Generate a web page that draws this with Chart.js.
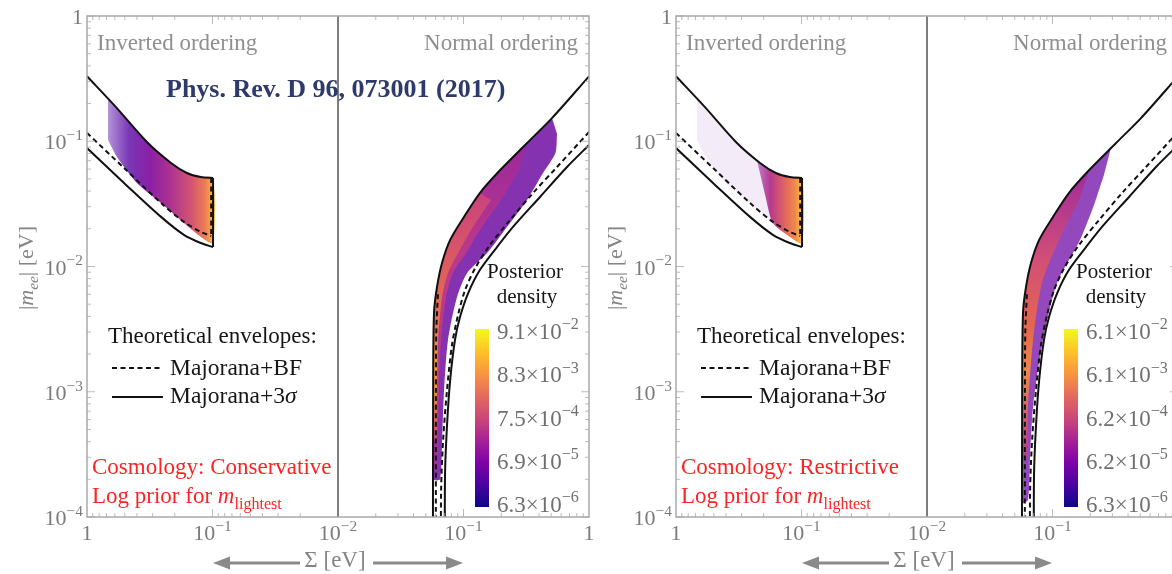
<!DOCTYPE html>
<html lang="en">
<head>
<meta charset="UTF-8">
<title>|m_ee| versus Σ</title>
<script src="https://cdn.jsdelivr.net/npm/chart.js@4.4.1/dist/chart.umd.min.js"></script>
<style>
  html, body { margin: 0; padding: 0; background: #fff; overflow: hidden; }
  .wrap { position: relative; width: 1172px; height: 574px; overflow: hidden; }
  .panel { position: absolute; top: 0; width: 600px; height: 574px; }
  #left { left: 0; }
  #right { left: 589px; }
</style>
</head>
<body>
<div class="wrap">
  <div class="panel" id="left"><canvas id="leftChart"></canvas></div>
  <div class="panel" id="right"><canvas id="rightChart"></canvas></div>
</div>
<script>
// all points are [Σ (eV), |m_ee| (eV)]
// theoretical envelopes, inverted ordering
const ioUpper3s = [[1.0, 0.33], [0.59, 0.188], [0.333, 0.0986], [0.214, 0.0671], [0.16, 0.0558], [0.124, 0.0518], [0.099, 0.0509]];
const ioLower3s = [[1.0, 0.0883], [0.507, 0.0465], [0.257, 0.0249], [0.169, 0.0179], [0.124, 0.0154], [0.099, 0.0143]];
const ioLowerBF = [[1.0, 0.1164], [0.507, 0.0612], [0.257, 0.0321], [0.169, 0.0227], [0.124, 0.0189], [0.1025, 0.0175]];

// theoretical envelopes, normal ordering
const noUpper3s = [[1.0, 0.33], [0.507, 0.153], [0.321, 0.0968], [0.196, 0.0589], [0.135, 0.0386], [0.101, 0.0249], [0.0783, 0.0163], [0.0675, 0.0107], [0.0615, 0.00686], [0.0582, 0.00425], [0.0573, 0.001], [0.0571, 0.00005]];
const noLower3s = [[1.0, 0.0933], [0.668, 0.0623], [0.407, 0.0359], [0.248, 0.0207], [0.185, 0.0143], [0.135, 0.00937], [0.109, 0.00614], [0.0938, 0.00395], [0.0855, 0.00259], [0.0783, 0.00124], [0.0741, 0.000563], [0.0713, 0.000225], [0.071, 0.00005]];
const noUpperBF = [[0.0625, 0.006], [0.0607, 0.003], [0.0603, 0.001], [0.0602, 0.00005]];
const noLowerBF = [[1.0, 0.1185], [0.556, 0.0623], [0.358, 0.0386], [0.235, 0.0235], [0.163, 0.0149], [0.124, 0.00973], [0.103, 0.00649], [0.0905, 0.0041], [0.0809, 0.00236], [0.0739, 0.00103], [0.0688, 0.000412], [0.0663, 0.000164], [0.0662, 0.00005]];

// posterior regions, conservative cosmology
const ioCloud = [[0.68, 0.2175], [0.59, 0.188], [0.333, 0.0986], [0.214, 0.0671], [0.16, 0.0558], [0.124, 0.0518], [0.099, 0.0509], [0.099, 0.0154], [0.1235, 0.0172], [0.169, 0.0222], [0.257, 0.0321], [0.4, 0.0465], [0.577, 0.0749], [0.68, 0.1023]];
const consNO = [[0.507, 0.153], [0.321, 0.0968], [0.196, 0.0589], [0.135, 0.0386], [0.101, 0.0249], [0.0783, 0.0163], [0.0675, 0.0107], [0.0615, 0.00686], [0.0585, 0.00425], [0.0577, 0.0008], [0.0575, 0.0002], [0.065, 0.0002], [0.0675, 0.000412], [0.07, 0.00103], [0.0752, 0.00259], [0.0888, 0.00571], [0.107, 0.00888], [0.154, 0.0128], [0.222, 0.0207], [0.321, 0.034], [0.43, 0.0558], [0.54, 0.0806], [0.556, 0.115]];
const consNOcore = [[0.321, 0.0968], [0.196, 0.0589], [0.135, 0.0386], [0.101, 0.0249], [0.0783, 0.0163], [0.0675, 0.0107], [0.0615, 0.00686], [0.0585, 0.00425], [0.0577, 0.000237], [0.0615, 0.000237], [0.0627, 0.000412], [0.0638, 0.00103], [0.0662, 0.00259], [0.0726, 0.00571], [0.0824, 0.00888], [0.1047, 0.0128], [0.14, 0.0207], [0.199, 0.034], [0.277, 0.0589]];
const consNOedge = [[0.135, 0.0386], [0.101, 0.0249], [0.0783, 0.0163], [0.0675, 0.0107], [0.0615, 0.00686], [0.0585, 0.00425], [0.0578, 0.000412], [0.061, 0.000412], [0.0615, 0.00103], [0.0627, 0.00259], [0.0675, 0.00571], [0.0752, 0.00888], [0.0904, 0.0128], [0.119, 0.0207], [0.166, 0.034]];

// posterior regions, restrictive cosmology
const restIOdense = [[0.226, 0.07], [0.16, 0.0558], [0.124, 0.0518], [0.099, 0.0509], [0.099, 0.0154], [0.1235, 0.0172], [0.169, 0.0222], [0.195, 0.0372]];
const restNO = [[0.292, 0.0883], [0.196, 0.0589], [0.135, 0.0386], [0.101, 0.0249], [0.0783, 0.0163], [0.0675, 0.0107], [0.0615, 0.00686], [0.0585, 0.00425], [0.0577, 0.0008], [0.0575, 0.00013], [0.0638, 0.000137], [0.0662, 0.000301], [0.07, 0.000756], [0.0839, 0.00259], [0.1087, 0.00738], [0.1656, 0.0163], [0.214, 0.031], [0.257, 0.0538]];
const restNOcore = [[0.196, 0.0589], [0.135, 0.0386], [0.101, 0.0249], [0.0783, 0.0163], [0.0675, 0.0107], [0.0615, 0.00686], [0.0585, 0.00425], [0.0577, 0.0003], [0.0621, 0.000301], [0.0638, 0.000756], [0.07, 0.00259], [0.0824, 0.00738], [0.1127, 0.0163], [0.1627, 0.034]];

// colour bar labels [mantissa, exponent], top to bottom
const consBar = [[9.1, -2], [8.3, -3], [7.5, -4], [6.9, -5], [6.3, -6]];
const restBar = [[6.1, -2], [6.1, -3], [6.2, -4], [6.2, -5], [6.3, -6]];

// axis tick labels
const xTickLabels = ['1', '10^-1', '10^-2', '10^-1', '1'];
const yTickLabels = ['1', '10^-1', '10^-2', '10^-3', '10^-4'];

const FONT = '"Liberation Serif", "Times New Roman", serif';
const plasma = [[0, '#0d0887'], [0.13, '#4c02a1'], [0.25, '#7e03a8'], [0.38, '#a92395'], [0.5, '#cc4778'], [0.63, '#e66c5c'], [0.75, '#f89540'], [0.88, '#fdc527'], [1, '#f0f921']];

// x runs 0..4: left half is Σ decreasing (inverted), right half Σ increasing (normal)
const toIO = ([s, m]) => ({ x: -Math.log10(s), y: m });
const toNO = ([s, m]) => ({ x: 4 + Math.log10(s), y: m });

function envelope(pts, conv, dash) {
  return { data: pts.map(conv), borderColor: '#111', borderWidth: 2, borderDash: dash ? [5, 3.5] : [],
    tension: 0.3, fill: false, pointRadius: 0, order: 0 };
}
function vertical(s, m0, m1, conv, dash) {
  const d = envelope([[s, m0], [s, m1]], conv, dash);
  d.tension = 0;
  return d;
}
function cloud(pts, conv, color, order) {
  return { data: pts.map(conv), borderWidth: 0, borderColor: 'rgba(0,0,0,0)', backgroundColor: color,
    fill: 'shape', tension: 0.25, pointRadius: 0, order };
}
function envelopeSets() {
  const top = ioUpper3s[ioUpper3s.length - 1];
  const bot = ioLower3s[ioLower3s.length - 1];
  const bf = ioLowerBF[ioLowerBF.length - 1];
  return [
    envelope(ioUpper3s, toIO), envelope(ioLower3s, toIO), vertical(top[0], top[1], bot[1], toIO),
    envelope(ioLowerBF, toIO, true), vertical(bf[0], top[1], bf[1], toIO, true),
    envelope(noUpper3s, toNO), envelope(noLower3s, toNO),
    envelope(noUpperBF, toNO, true), envelope(noLowerBF, toNO, true)
  ];
}

// gradients placed through the scales
function addStops(g, stops) { stops.forEach(([o, c]) => g.addColorStop(o, c)); return g; }
function hGradIO(s0, s1, stops) {
  return c => {
    const ch = c.chart;
    if (!ch.chartArea) return 'rgba(0,0,0,0)';
    const x0 = ch.scales.x.getPixelForValue(-Math.log10(s0));
    const x1 = ch.scales.x.getPixelForValue(-Math.log10(s1));
    return addStops(ch.ctx.createLinearGradient(x0, 0, x1, 0), stops);
  };
}
function vGrad(m0, m1, stops) {
  return c => {
    const ch = c.chart;
    if (!ch.chartArea) return 'rgba(0,0,0,0)';
    const y0 = ch.scales.y.getPixelForValue(m0);
    const y1 = ch.scales.y.getPixelForValue(m1);
    return addStops(ch.ctx.createLinearGradient(0, y0, 0, y1), stops);
  };
}

// rich text: parts = [{t, i, b, sup, sub}]
function drawRich(ctx, parts, x, y, size, color, align) {
  let w = 0;
  const items = parts.map(p => {
    const s = (p.sup || p.sub) ? size * 0.7 : size;
    const f = (p.i ? 'italic ' : '') + (p.b ? 'bold ' : '') + s + 'px ' + FONT;
    ctx.font = f;
    const width = ctx.measureText(p.t).width;
    const it = { t: p.t, f, x: w, dy: p.sup ? -size * 0.42 : p.sub ? size * 0.24 : 0 };
    w += width;
    return it;
  });
  const x0 = align === 'right' ? x - w : align === 'center' ? x - w / 2 : x;
  ctx.fillStyle = color;
  ctx.textAlign = 'left';
  ctx.textBaseline = 'alphabetic';
  items.forEach(it => { ctx.font = it.f; ctx.fillText(it.t, x0 + it.x, y + it.dy); });
}
function powParts(label) {
  const [b, e] = label.split('^');
  return e ? [{ t: b }, { t: e.replace('-', '\u2212'), sup: true }] : [{ t: b }];
}
function arrow(ctx, from, to, y) {
  const dir = Math.sign(to - from);
  ctx.beginPath(); ctx.moveTo(from, y); ctx.lineTo(to - dir * 12, y); ctx.stroke();
  ctx.beginPath(); ctx.moveTo(to, y); ctx.lineTo(to - dir * 17, y - 6.5); ctx.lineTo(to - dir * 17, y + 6.5);
  ctx.closePath(); ctx.fill();
}

function decor(cfg) {
  return {
    id: 'decor',
    afterDraw(chart) {
      const { ctx, chartArea: a, scales: { x, y } } = chart;
      const L = a.left, T = a.top;
      ctx.save();

      // middle divider at Σ = 10^-2
      const xm = x.getPixelForValue(2);
      ctx.strokeStyle = '#7d7d7d'; ctx.lineWidth = 2;
      ctx.beginPath(); ctx.moveTo(xm, a.top); ctx.lineTo(xm, a.bottom); ctx.stroke();

      // frame ticks
      ctx.strokeStyle = '#bcbcbc'; ctx.lineWidth = 1;
      const hTick = (py, len) => {
        ctx.beginPath(); ctx.moveTo(a.left, py); ctx.lineTo(a.left + len, py);
        ctx.moveTo(a.right, py); ctx.lineTo(a.right - len, py); ctx.stroke();
      };
      const vTick = (px, len) => {
        ctx.beginPath(); ctx.moveTo(px, a.bottom); ctx.lineTo(px, a.bottom - len);
        ctx.moveTo(px, a.top); ctx.lineTo(px, a.top + len); ctx.stroke();
      };
      for (let k = -4; k <= 0; k++) {
        hTick(y.getPixelForValue(Math.pow(10, k)), 8);
        if (k < 0) for (let d = 2; d <= 9; d++) hTick(y.getPixelForValue(d * Math.pow(10, k)), 4);
      }
      [1, 3].forEach(u => vTick(x.getPixelForValue(u), 8));
      for (let k = -2; k <= -1; k++) {
        for (let d = 2; d <= 9; d++) {
          const lg = Math.log10(d * Math.pow(10, k));
          vTick(x.getPixelForValue(-lg), 4);
          vTick(x.getPixelForValue(4 + lg), 4);
        }
      }
      ctx.strokeStyle = '#a9a9a9'; ctx.lineWidth = 1.5;
      ctx.strokeRect(a.left, a.top, a.width, a.height);

      // tick labels
      const tickCol = '#7b7b7b';
      yTickLabels.forEach((lab, i) => {
        drawRich(ctx, powParts(lab), L - 4, y.getPixelForValue(Math.pow(10, -i)) + 8, 22, tickCol, 'right');
      });
      xTickLabels.forEach((lab, i) => {
        drawRich(ctx, powParts(lab), x.getPixelForValue(i), a.bottom + 23, 22, tickCol, 'center');
      });

      // axis titles
      ctx.save();
      ctx.translate(L - 54, 268);
      ctx.rotate(-Math.PI / 2);
      drawRich(ctx, [{ t: '|' }, { t: 'm', i: true }, { t: 'ee', i: true, sub: true }, { t: '| [eV]' }], 0, 0, 22, '#848484', 'center');
      ctx.restore();
      drawRich(ctx, [{ t: '\u03A3 [eV]' }], xm - 3, a.bottom + 50, 23, '#848484', 'center');
      ctx.strokeStyle = '#8a8a8a'; ctx.fillStyle = '#8a8a8a'; ctx.lineWidth = 3;
      arrow(ctx, xm - 38, xm - 125, a.bottom + 46);
      arrow(ctx, xm + 35, xm + 125, a.bottom + 46);

      // ordering labels
      drawRich(ctx, [{ t: 'Inverted ordering' }], L + 10, T + 34, 23, '#8f8f8f', 'left');
      drawRich(ctx, [{ t: 'Normal ordering' }], a.right - 11, T + 34, 23, '#8f8f8f', 'right');
      if (cfg.watermark) {
        drawRich(ctx, [{ t: 'Phys. Rev. D 96, 073001 (2017)', b: true }], L + 79, T + 81, 26, '#2e3a6c', 'left');
      }

      // envelope key
      const ink = '#161616';
      drawRich(ctx, [{ t: 'Theoretical envelopes:' }], L + 21, T + 327, 23, ink, 'left');
      ctx.strokeStyle = '#111'; ctx.lineWidth = 2;
      ctx.setLineDash([5, 3.5]);
      ctx.beginPath(); ctx.moveTo(L + 25, T + 352); ctx.lineTo(L + 76, T + 352); ctx.stroke();
      ctx.setLineDash([]);
      ctx.beginPath(); ctx.moveTo(L + 25, T + 381); ctx.lineTo(L + 76, T + 381); ctx.stroke();
      drawRich(ctx, [{ t: 'Majorana+BF' }], L + 83, T + 359, 23.5, ink, 'left');
      drawRich(ctx, [{ t: 'Majorana+3' }, { t: '\u03C3', i: true }], L + 83, T + 387, 23.5, ink, 'left');

      // cosmology note
      const red = '#fb2424';
      drawRich(ctx, [{ t: 'Cosmology: ' + cfg.note }], L + 5, T + 458, 23, red, 'left');
      drawRich(ctx, [{ t: 'Log prior for ' }, { t: 'm', i: true }, { t: 'lightest', sub: true }], L + 5, T + 487, 23, red, 'left');

      // colour bar
      const bx = L + 388, by = T + 313, bw = 14, bh = 178;
      ctx.fillStyle = addStops(ctx.createLinearGradient(0, by + bh, 0, by), plasma);
      ctx.fillRect(bx, by, bw, bh);
      drawRich(ctx, [{ t: 'Posterior' }], bx + 50, T + 262, 21, ink, 'center');
      drawRich(ctx, [{ t: 'density' }], bx + 52, T + 287, 21, ink, 'center');
      cfg.bar.forEach(([mant, ex], i) => {
        const ly = by + 3 + i * (bh - 5) / 4 + 7;
        drawRich(ctx, [{ t: mant.toFixed(1) + '\u00D710' }, { t: '\u2212' + Math.abs(ex), sup: true }], bx + 22, ly, 23, '#6f6f6f', 'left');
      });
      ctx.restore();
    }
  };
}

function makeChart(id, clouds, cfg) {
  return new Chart(document.getElementById(id), {
    type: 'line',
    data: { datasets: envelopeSets().concat(clouds) },
    options: {
      responsive: true,
      maintainAspectRatio: false,
      animation: false,
      events: [],
      layout: { padding: { left: 0, right: 11, top: 16, bottom: 0 } },
      plugins: { legend: { display: false }, tooltip: { enabled: false } },
      scales: {
        x: { type: 'linear', min: 0, max: 4, grid: { display: false }, border: { display: false },
          ticks: { display: false }, afterFit: s => { s.height = 57; } },
        y: { type: 'logarithmic', min: 1e-4, max: 1, grid: { display: false }, border: { display: false },
          ticks: { display: false }, afterFit: s => { s.width = 87; } }
      }
    },
    plugins: [decor(cfg)]
  });
}

makeChart('leftChart', [
  cloud(ioCloud, toIO, hGradIO(0.68, 0.099, [[0, 'rgba(88,18,168,0.45)'], [0.2, 'rgba(98,20,170,0.85)'], [0.4, '#8b20a4'], [0.6, '#ae338f'], [0.8, '#d45570'], [0.93, '#ee7f52'], [1, '#f9b93a']]), 10),
  cloud(consNO, toNO, 'rgba(116,22,166,0.88)', 12),
  cloud(consNOcore, toNO, vGrad(0.0968, 0.000237, [[0, '#9a289e'], [0.35, '#bb3a88'], [0.8, '#b8378c'], [1, '#9c2a9a']]), 11),
  cloud(consNOedge, toNO, vGrad(0.0386, 0.000412, [[0, '#c9437e'], [0.3, '#dc5c60'], [0.55, '#ea764c'], [0.68, '#f49a3e'], [0.82, '#ec9040'], [1, '#c94a7a']]), 10)
], { watermark: true, note: 'Conservative', bar: consBar });

makeChart('rightChart', [
  cloud(ioCloud, toIO, 'rgba(120,30,170,0.09)', 12),
  cloud(restIOdense, toIO, hGradIO(0.226, 0.099, [[0, 'rgba(150,40,160,0.55)'], [0.3, '#b73a8c'], [0.6, '#de6263'], [0.85, '#f08a48'], [1, '#f9c23a']]), 10),
  cloud(restNO, toNO, 'rgba(120,26,170,0.8)', 12),
  cloud(restNOcore, toNO, vGrad(0.0589, 0.0003, [[0, '#a02a9c'], [0.3, '#d04e78'], [0.55, '#e4674f'], [0.7, '#ef8848'], [1, '#b53a8c']]), 10)
], { watermark: false, note: 'Restrictive', bar: restBar });
</script>
</body>
</html>
